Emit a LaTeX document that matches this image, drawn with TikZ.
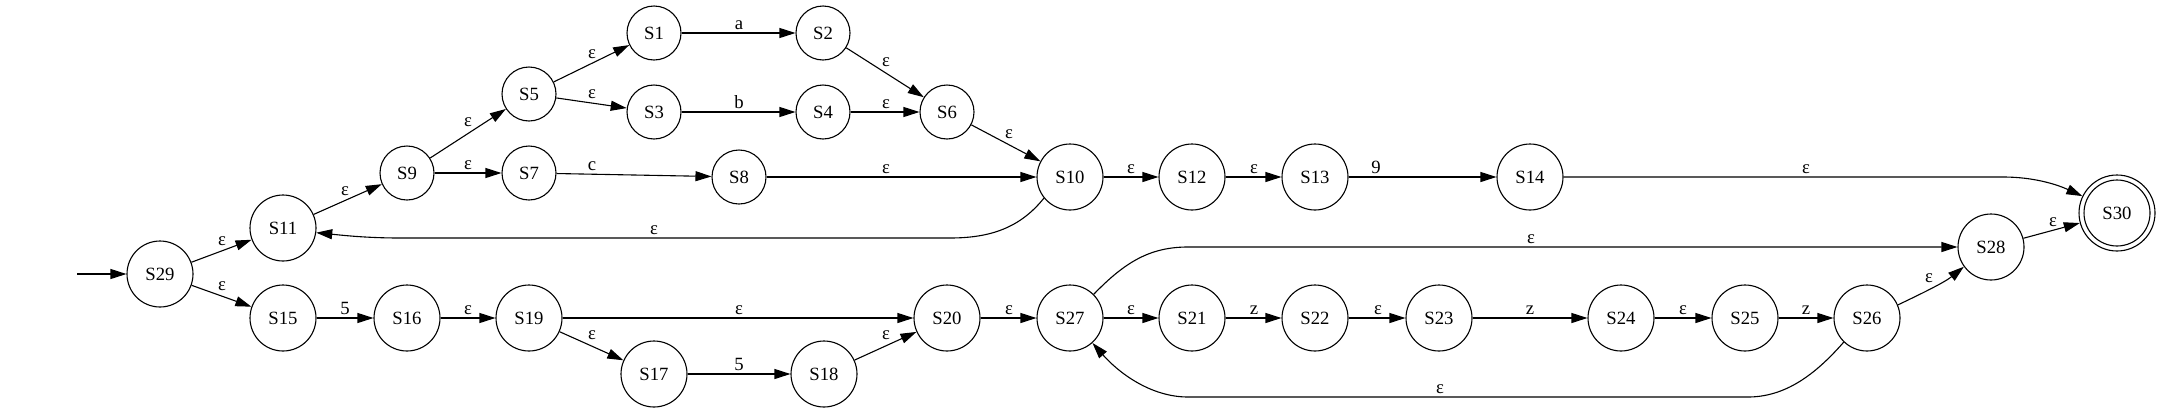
\documentclass[tikz,border=0pt]{standalone}
\usepackage{fontspec}
\setmainfont{Liberation Serif}
\usetikzlibrary{arrows.meta}
\begin{document}
\begin{tikzpicture}[x=1pt,y=-1pt,
  st/.style={circle,draw,line width=1.1pt,inner sep=0pt,minimum size=66pt,font=\fontsize{18.7}{22}\selectfont},
  sm/.style={st,minimum size=54pt},
  fin/.style={st,minimum size=76pt},
  lab/.style={anchor=base,inner sep=0pt,font=\fontsize{18.7}{22}\selectfont},
  edge/.style={line width=1.1pt,-{Triangle[length=16pt,width=10pt]}},
]
\useasboundingbox (0,0) rectangle (2163,413);
\coordinate (start) at (77,274);
\node[st] (S29) at (160,274) {S29};
\node[st] (S11) at (283,228) {S11};
\node[st] (S15) at (283,318) {S15};
\node[sm] (S9) at (407,173) {S9};
\node[st] (S16) at (407,318) {S16};
\node[sm] (S5) at (529,94) {S5};
\node[sm] (S7) at (529,173) {S7};
\node[st] (S19) at (529,318) {S19};
\node[sm] (S1) at (654,33) {S1};
\node[sm] (S3) at (654,112) {S3};
\node[st] (S17) at (654,374) {S17};
\node[sm] (S2) at (823,33) {S2};
\node[sm] (S4) at (823,112) {S4};
\node[sm] (S8) at (739,177) {S8};
\node[st] (S18) at (824,374) {S18};
\node[sm] (S6) at (947,112) {S6};
\node[st] (S20) at (947,318) {S20};
\node[st] (S10) at (1070,177) {S10};
\node[st] (S27) at (1070,318) {S27};
\node[st] (S12) at (1192,177) {S12};
\node[st] (S21) at (1192,318) {S21};
\node[st] (S13) at (1315,177) {S13};
\node[st] (S22) at (1315,318) {S22};
\node[st] (S14) at (1530,177) {S14};
\node[st] (S23) at (1439,318) {S23};
\node[st] (S24) at (1621,318) {S24};
\node[st] (S25) at (1745,318) {S25};
\node[st] (S26) at (1867,318) {S26};
\node[st] (S28) at (1991,247) {S28};
\node[fin] (S30) at (2117,213) {S30};
\draw[line width=1.1pt] (S30.center) circle[radius=33pt];

\draw[edge] (start) -- (S29);
\draw[edge] (S29) -- (S11);
\draw[edge] (S29) -- (S15);
\draw[edge] (S11) -- (S9);
\draw[edge] (S15) -- (S16);
\draw[edge] (S9) -- (S5);
\draw[edge] (S9) -- (S7);
\draw[edge] (S16) -- (S19);
\draw[edge] (S5) -- (S1);
\draw[edge] (S5) -- (S3);
\draw[edge] (S7) -- (S8);
\draw[edge] (S19) -- (S20);
\draw[edge] (S19) -- (S17);
\draw[edge] (S1) -- (S2);
\draw[edge] (S3) -- (S4);
\draw[edge] (S17) -- (S18);
\draw[edge] (S2) -- (S6);
\draw[edge] (S4) -- (S6);
\draw[edge] (S18) -- (S20);
\draw[edge] (S6) -- (S10);
\draw[edge] (S8) -- (S10);
\draw[edge] (S20) -- (S27);
\draw[edge] (S10) -- (S12);
\draw[edge] (S12) -- (S13);
\draw[edge] (S13) -- (S14);
\draw[edge] (S27) -- (S21);
\draw[edge] (S21) -- (S22);
\draw[edge] (S22) -- (S23);
\draw[edge] (S23) -- (S24);
\draw[edge] (S24) -- (S25);
\draw[edge] (S25) -- (S26);
\draw[edge] (S28) -- (S30);
\draw[edge] (S10.219) .. controls (1020,228) and (990,238) .. (950,238) -- (400,238) .. controls (365,238) and (340,235) .. (S11.352);
\draw[edge] (S27.45) .. controls (1125,262) and (1150,247) .. (1188,247) -- (S28.west);
\draw[edge] (S26.226) .. controls (1815,375) and (1785,397) .. (1748,397) -- (1188,397) .. controls (1150,397) and (1118,372) .. (S27.312);
\draw[edge] (S14.east) -- (2003,177) .. controls (2035,177) and (2058,185) .. (S30.154);
\draw[edge] (S26.23) .. controls (1925,292) and (1945,282) .. (S28.216);

% labels
\node[lab] (l1) at (222,245) {ε};
\node[lab] (l2) at (222,290) {ε};
\node[lab] (l3) at (345,195) {ε};
\node[lab] (l4) at (345,314) {5};
\node[lab] (l5) at (468,126) {ε};
\node[lab] (l6) at (468,169) {ε};
\node[lab] (l7) at (468,314) {ε};
\node[lab] (l8) at (592,58) {ε};
\node[lab] (l9) at (592,98) {ε};
\node[lab] (l10) at (592,170) {c};
\node[lab] (l11) at (592,339) {ε};
\node[lab] (l12) at (739,29) {a};
\node[lab] (l13) at (739,108) {b};
\node[lab] (l14) at (739,314) {ε};
\node[lab] (l15) at (739,370) {5};
\node[lab] (l16) at (886,66) {ε};
\node[lab] (l17) at (886,108) {ε};
\node[lab] (l18) at (886,173) {ε};
\node[lab] (l19) at (886,339) {ε};
\node[lab] (l20) at (1009,138) {ε};
\node[lab] (l21) at (1009,314) {ε};
\node[lab] (l22) at (654,234) {ε};
\node[lab] (l23) at (1131,173) {ε};
\node[lab] (l24) at (1131,314) {ε};
\node[lab] (l25) at (1254,173) {ε};
\node[lab] (l26) at (1254,314) {z};
\node[lab] (l27) at (1376,173) {9};
\node[lab] (l28) at (1378,314) {ε};
\node[lab] (l29) at (1531,243) {ε};
\node[lab] (l30) at (1530,314) {z};
\node[lab] (l31) at (1440,393) {ε};
\node[lab] (l32) at (1683,314) {ε};
\node[lab] (l33) at (1806,314) {z};
\node[lab] (l34) at (1806,173) {ε};
\node[lab] (l35) at (1929,282) {ε};
\node[lab] (l36) at (2053,226) {ε};
\end{tikzpicture}
\end{document}
